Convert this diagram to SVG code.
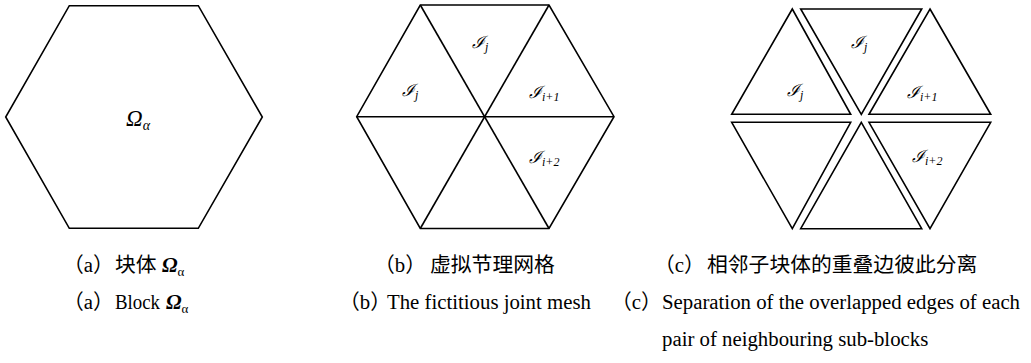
<svg xmlns="http://www.w3.org/2000/svg" width="1031" height="363" viewBox="0 0 1031 363">
<style>
.ln{fill:none;stroke:#000;stroke-width:1.6;stroke-linejoin:miter}
.cap{font-family:"Liberation Serif","Noto Sans CJK SC",serif;font-size:20.8px;fill:#000}
.bi{font-weight:bold;font-style:italic}
.sub{font-size:13px}
.lab{font-family:"DejaVu Serif","Liberation Serif",serif;font-style:italic;font-size:17px;fill:#000}
.ls{font-family:"Liberation Serif",serif;font-style:italic;font-size:12px}
.om{font-family:"Liberation Serif",serif;font-style:italic;font-size:23px;fill:#000}
</style>
<rect width="1031" height="363" fill="#fff"/>
<g id="block-a">
<polygon class="ln" points="69.3,5.7 198.3,5.7 262.3,117 198.3,228.3 69.3,228.3 5.7,117"/>
<text class="om" x="126" y="126">Ω<tspan font-size="14" dy="4">α</tspan></text>
</g>
<g id="mesh-b">
<polygon class="ln" points="420.3,5 549,5 614,116.7 549,228.5 420.3,228.5 356.7,116.7"/>
<g id="connectors">
<line class="ln" x1="356.7" y1="116.7" x2="614" y2="116.7"/>
<line class="ln" x1="420.3" y1="5" x2="549" y2="228.5"/>
<line class="ln" x1="549" y1="5" x2="420.3" y2="228.5"/>
</g>
<text class="lab" x="472" y="48">ℐ<tspan class="ls" dy="3">j</tspan></text>
<text class="lab" x="402" y="96">ℐ<tspan class="ls" dy="3">j</tspan></text>
<text class="lab" x="529" y="98">ℐ<tspan class="ls" dy="3">i+1</tspan></text>
<text class="lab" x="529" y="163">ℐ<tspan class="ls" dy="3">i+2</tspan></text>
</g>
<g id="separated-c">
<polygon class="ln" points="792.3,9 850.7,114.3 731.7,114.3"/>
<polygon class="ln" points="800.7,9 921.7,9 861.3,114.3"/>
<polygon class="ln" points="930,9 990.7,114.3 869,114.3"/>
<polygon class="ln" points="731.7,122.3 850.7,122.3 792.3,228.7"/>
<polygon class="ln" points="861.3,122.3 921.7,228.7 800.7,228.7"/>
<polygon class="ln" points="869,122.3 990.7,122.3 930,228.7"/>
<text class="lab" x="851" y="48">ℐ<tspan class="ls" dy="3">j</tspan></text>
<text class="lab" x="787" y="96">ℐ<tspan class="ls" dy="3">j</tspan></text>
<text class="lab" x="907" y="98">ℐ<tspan class="ls" dy="3">i+1</tspan></text>
<text class="lab" x="912" y="162">ℐ<tspan class="ls" dy="3">i+2</tspan></text>
</g>
<g id="captions">
<text class="cap" y="272"><tspan x="63">（a）</tspan><tspan x="115">块体</tspan><tspan x="162" class="bi">Ω</tspan><tspan class="sub" dy="4">α</tspan></text>
<text class="cap" y="309"><tspan x="63">（a）</tspan></text>
<text class="cap" x="115" y="309" textLength="45" lengthAdjust="spacingAndGlyphs">Block</text>
<text class="cap" x="166" y="309"><tspan class="bi">Ω</tspan><tspan class="sub" dy="4">α</tspan></text>
<text class="cap" y="272"><tspan x="374">（b）</tspan><tspan x="430">虚拟节理网格</tspan></text>
<text class="cap" y="309"><tspan x="339">（b）</tspan><tspan x="387">The fictitious joint mesh</tspan></text>
<text class="cap" y="272"><tspan x="654">（c）</tspan><tspan x="707">相邻子块体的重叠边彼此分离</tspan></text>
<text class="cap" y="309"><tspan x="611">（c）</tspan><tspan x="662">Separation of the overlapped edges of each</tspan></text>
<text class="cap" x="662" y="346">pair of neighbouring sub-blocks</text>
</g>
</svg>
